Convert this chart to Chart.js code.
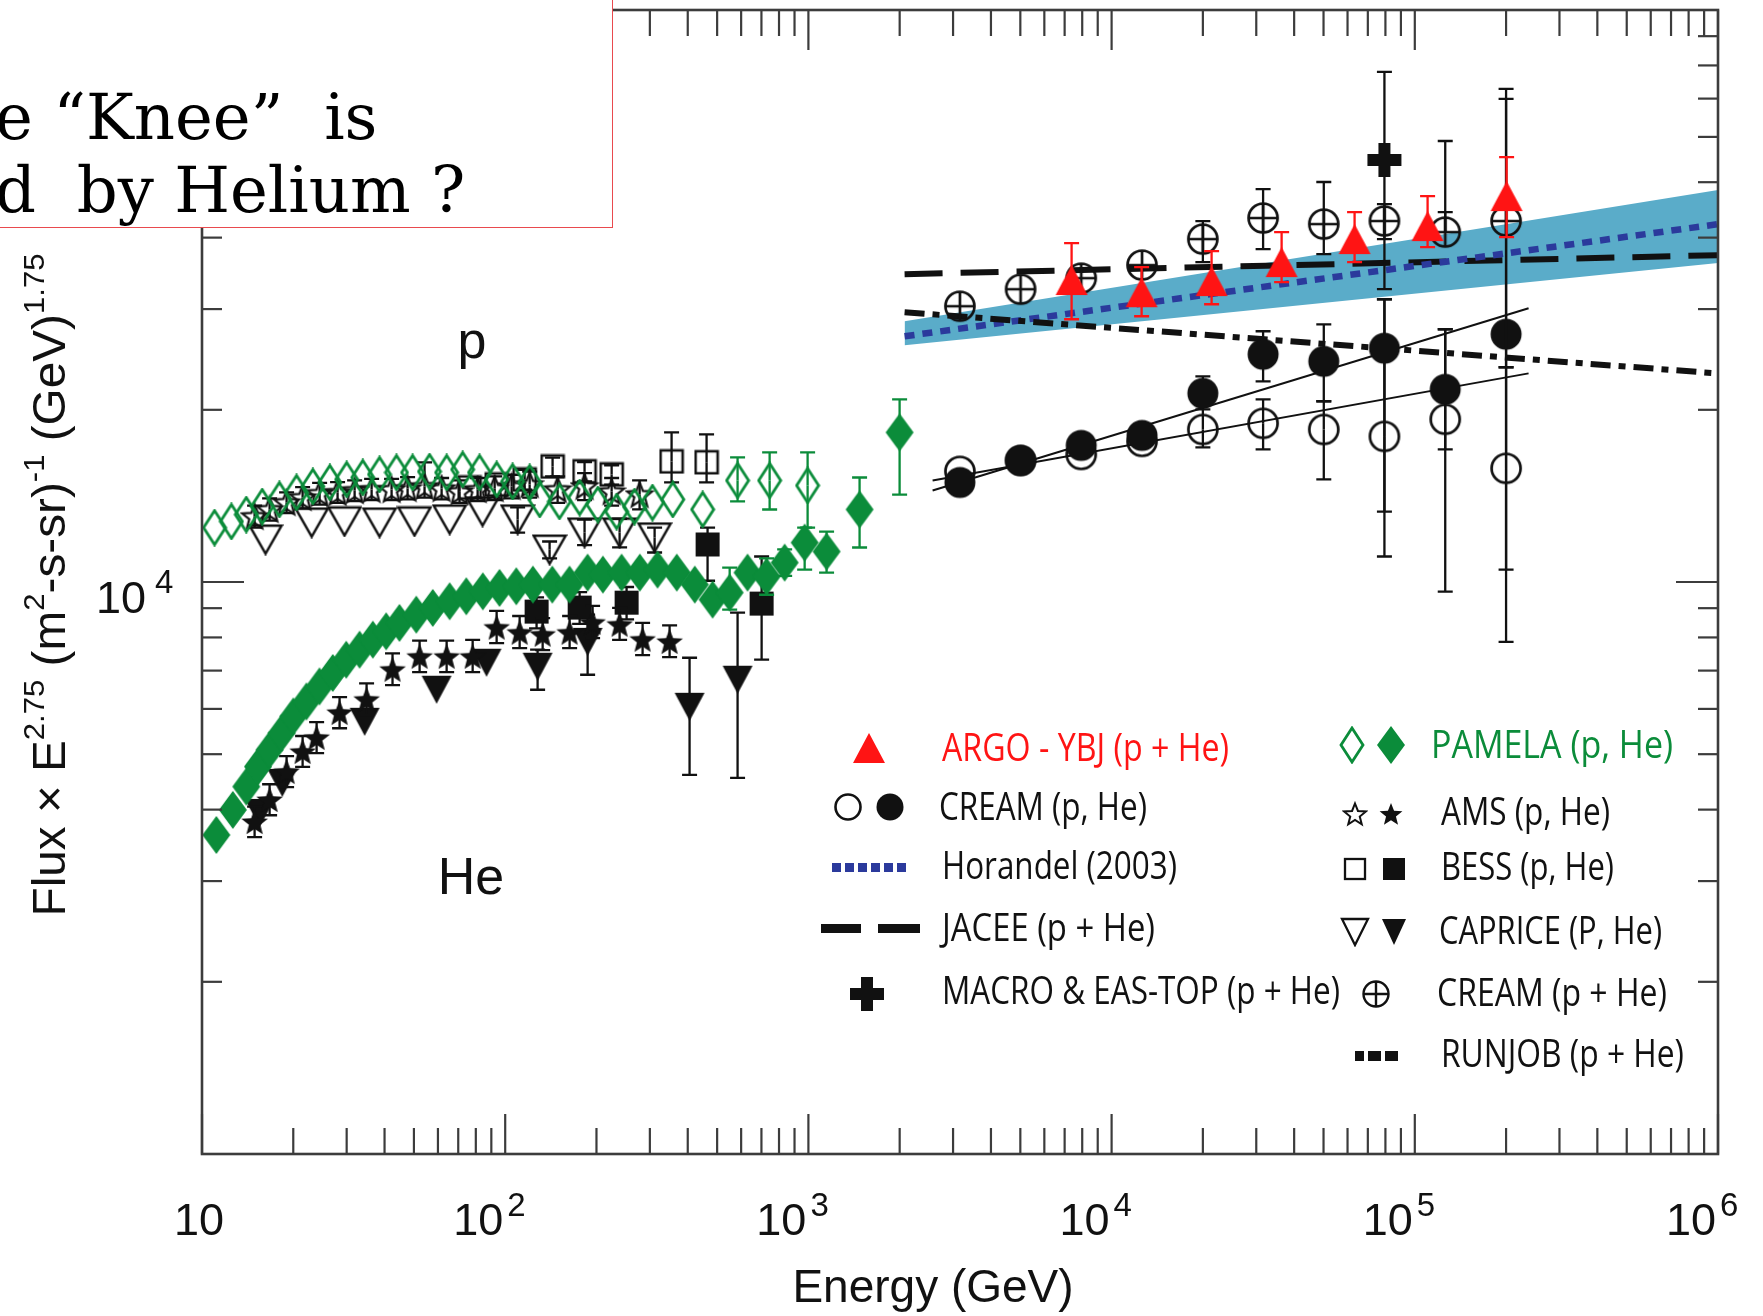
<!DOCTYPE html>
<html>
<head>
<meta charset="utf-8">
<script src="https://cdn.jsdelivr.net/npm/chart.js@4.4.1/dist/chart.umd.min.js"></script>
<style>
html,body{margin:0;padding:0;background:#fff;}
#wrap{position:relative;width:1763px;height:1316px;overflow:hidden;background:#fff;}
#chart{position:absolute;left:0;top:0;}
#note{position:absolute;left:-20px;top:-20px;width:633px;height:248px;box-sizing:border-box;border:1.5px solid #e94a4e;background:#fff;}
#note div{position:absolute;left:14px;font-family:'DejaVu Serif',serif;font-size:64px;line-height:73px;white-space:pre;color:#000;}
</style>
</head>
<body>
<div id="wrap">
<canvas id="chart" width="1763" height="1316"></canvas>
<div id="note"><div style="top:100px">e “Knee”  is</div><div style="top:173px">d  by Helium ?</div></div>
</div>
<script>
// ================= DATA =================
const xTickValues = [10, 100, 1000, 10000, 100000, 1000000];
const xTickBase = ['10', '10', '10', '10', '10', '10'];
const xTickSup = ['', '2', '3', '4', '5', '6'];
const yTickValues = [10000];
const yTickBase = ['10'];
const yTickSup = ['4'];

// ARGO-YBJ (p+He)
const argoE = [7380, 12560, 21370, 36370, 63300, 110200, 200800];
const argoF = [33720, 32110, 33580, 36250, 39760, 41900, 47280];
const argoHi = [39130, 35510, 37870, 40900, 44330, 47280, 55330];
const argoLo = [28800, 29150, 30590, 33440, 36250, 38500, 40080];

// CREAM p (open), He (filled), p+He (circle-plus)
const creamE = [3160, 5010, 7940, 12600, 20000, 31600, 50100, 79400, 126000, 200000];
const creamPF = [15610, 16310, 16710, 17610, 18480, 18940, 18480, 17970, 19250, 15800];
const creamPHi = [null, null, null, null, 20860, 20860, 20700, 31210, 27660, 23740];
const creamPLo = [null, null, null, null, 17190, 17050, 15110, 11080, 9620, 7860];
const creamHeF = [14930, 16310, 17330, 18040, 21370, 25010, 24310, 25630, 21720, 27110];
const creamHeHi = [null, null, null, null, 22890, 27440, 28220, 31210, 27660, 72780];
const creamHeLo = [null, null, null, null, 20040, 22430, 20700, 13280, 17050, 10510];
const creamPHeF = [30350, 32500, 33980, 35810, 39760, 43280, 42240, 42760, 40900, 42760];
const creamPHeHi = [null, null, null, null, 42760, 48640, 50040, 45780, 59020, 69900];
const creamPHeLo = [null, null, null, null, 36250, 38190, 37420, 39760, 44330, 23740];

// MACRO & EAS-TOP (p+He)
const macroE = [79400];
const macroF = [54680];
const macroHi = [77960];
const macroLo = [32500];

// PAMELA p (open diamonds)
const pamPE = [11.0, 12.5, 14.0, 15.8, 18.0, 20.5, 23.2, 26.4, 30.0, 33.9, 38.5, 43.8, 49.5, 56.3, 64.1, 72.4, 82.3, 93.7, 105.8, 120.4, 130, 151, 176, 202, 233, 267, 306, 357, 448, 584, 745, 994];
const pamPF = [12450, 12760, 13120, 13550, 13940, 14340, 14690, 14930, 15110, 15230, 15420, 15540, 15540, 15600, 15540, 15730, 15540, 15110, 14990, 14930, 13940, 13830, 14050, 13660, 13280, 13550, 13770, 13940, 13390, 15050, 15050, 14750];
const pamPHi = [null, null, null, null, null, null, null, null, null, null, null, null, null, null, null, null, null, null, null, null, null, null, null, null, null, null, null, null, null, 16510, 16850, 16850];
const pamPLo = [null, null, null, null, null, null, null, null, null, null, null, null, null, null, null, null, null, null, null, null, null, null, null, null, null, null, null, null, null, 13830, 13390, 12450];

// PAMELA He (filled diamonds)
const pamHeE = [11.15, 12.64, 14.0, 15.3, 16.7, 18.3, 20.0, 22.1, 24.4, 27.0, 29.9, 33.1, 36.6, 40.5, 44.8, 50.9, 57.7, 65.6, 74.4, 84.4, 95.8, 108.8, 123.4, 143, 163, 187, 210, 242, 278, 318, 368, 422, 483, 550, 630, 728, 835, 972, 1148, 1475, 1999];
const pamHeF = [3612, 3995, 4388, 4756, 5088, 5443, 5820, 6182, 6569, 6934, 7314, 7615, 7929, 8199, 8481, 8768, 9010, 9253, 9441, 9632, 9765, 9828, 9895, 9895, 9895, 10386, 10303, 10386, 10386, 10512, 10386, 9895, 9316, 9582, 10386, 10220, 10813, 11720, 11304, 13390, 18260];
const pamHeHi = [null, null, null, null, null, null, null, null, null, null, null, null, null, null, null, null, null, null, null, null, null, null, null, null, null, null, null, null, null, null, null, null, null, 10600, null, 11000, 11400, 12450, 12250, 15230, 20860];
const pamHeLo = [null, null, null, null, null, null, null, null, null, null, null, null, null, null, null, null, null, null, null, null, null, null, null, null, null, null, null, null, null, null, null, null, null, 8950, null, 9500, 10250, 10512, 10386, 11489, 14220];

// AMS p (open stars), He (filled stars)
const amsPE = [14.91, 16.71, 19.01, 21.47, 24.43, 28.0, 31.87, 36.26, 42.2, 47.65, 54.2, 61.7, 70.7, 81.1, 92.3, 105, 120.4, 148.9, 182.7, 224.4, 277.5];
const amsPF = [13020, 13390, 13770, 14050, 14280, 14340, 14450, 14510, 14510, 14570, 14690, 14570, 14390, 14510, 14570, 14690, 14810, 14510, 14690, 14390, 14220];
const amsPHi = [13600, 14000, 14350, 14650, 14900, 14950, 15050, 15150, 15150, 15250, 16180, 15200, 15050, 15200, 15300, 15400, 15600, 15300, 15500, 15200, 15050];
const amsPLo = [12450, 12800, 13200, 13450, 13650, 13750, 13850, 13900, 13900, 13950, 14050, 13950, 13750, 13850, 13900, 14000, 14050, 13750, 13900, 13600, 13400];
const amsHeE = [14.91, 16.71, 19.01, 21.47, 23.88, 28.43, 34.9, 42.5, 52.2, 64.1, 78.1, 93.7, 111.6, 132.9, 163.1, 194.2, 238.4, 283.9, 348.5];
const amsHeF = [3806, 4159, 4657, 5047, 5340, 5906, 6226, 7025, 7403, 7403, 7403, 8323, 8155, 8090, 8155, 8491, 8423, 7929, 7860];
const amsHeHi = [4050, 4430, 4960, 5380, 5690, 6290, 6650, 7500, 7900, 7900, 7920, 8900, 8720, 8650, 8720, 9080, 9010, 8480, 8400];
const amsHeLo = [3580, 3910, 4380, 4750, 5020, 5550, 5850, 6600, 6960, 6960, 6960, 7820, 7660, 7600, 7660, 7980, 7920, 7450, 7390];

// BESS p (open squares), He (filled squares)
const bessPE = [76.3, 93.7, 115.9, 143.3, 182.7, 224.4, 353.8, 461.5];
const bessPF = [14630, 14810, 15110, 15920, 15610, 15420, 16250, 16190];
const bessPHi = [null, null, 15700, 16500, 16200, 16000, 18260, 18120];
const bessPLo = [null, null, 14500, 15300, 15000, 14800, 14930, 14930];
const bessHeE = [126.9, 176, 251.4, 465, 701];
const bessHeF = [8876, 9020, 9203, 11630, 9168];
const bessHeHi = [9400, 9600, 9800, 12450, 11080];
const bessHeLo = [8300, 8450, 8600, 10050, 7314];

// CAPRICE p (open down triangles), He (filled down triangles)
const capPE = [16.2, 23.0, 29.5, 38.5, 50.2, 65.6, 84.2, 109.9, 140.1, 182.7, 238.4, 311];
const capPF = [11860, 12700, 12760, 12700, 12760, 12860, 13280, 12860, 11390, 12200, 12200, 11960];
const capPHi = [null, null, null, null, null, null, null, 13500, 11770, 12860, 12900, 12450];
const capPLo = [null, null, null, null, null, null, null, 12200, 11000, 11600, 11500, 11260];
const capHeE = [15.5, 18.4, 34.4, 59.4, 86.8, 127.9, 187, 405.6, 584];
const capHeF = [3947, 4455, 5697, 6481, 7226, 7110, 7860, 6052, 6748];
const capHeHi = [null, null, null, null, null, 7615, 8768, 7372, 8840];
const capHeLo = [null, null, null, null, null, 6481, 6884, 4601, 4546];

// Model / fit lines
const jaceeE = [2076, 1000000];
const jaceeF = [34530, 37270];
const horE = [2076, 1000000];
const horF = [26890, 42230];
const bandE = [2076, 1000000];
const bandHiF = [28570, 48440];
const bandLoF = [25940, 36100];
const runjobE = [2076, 990000];
const runjobF = [29620, 23160];
const creamFitE = [2568, 237300];
const creamFitHeF = [14455, 30100];
const creamFitPF = [15050, 23160];

// ================= STYLE =================
const GREEN = '#0b8c3a', RED = '#ff1414', BLK = '#111111', BLUE = '#2b3a9c', BAND = '#5aacc9';

function mk(w, h, fn) {
  const c = document.createElement('canvas'); c.width = w; c.height = h;
  const g = c.getContext('2d'); fn(g, w, h); return c;
}
function starPath(g, cx, cy, R, r) {
  g.beginPath();
  for (let i = 0; i < 10; i++) {
    const a = -Math.PI / 2 + i * Math.PI / 5, rr = i % 2 ? r : R;
    g.lineTo(cx + rr * Math.cos(a), cy + rr * Math.sin(a));
  }
  g.closePath();
}
const diaPath = (g, w, h, m) => { g.beginPath(); g.moveTo(w / 2, m); g.lineTo(w - m, h / 2); g.lineTo(w / 2, h - m); g.lineTo(m, h / 2); g.closePath(); };
const mDiaOpen = mk(26, 38, (g, w, h) => { g.strokeStyle = GREEN; g.lineWidth = 2.8; diaPath(g, w, h, 2); g.stroke(); });
const mDiaFill = mk(30, 40, (g, w, h) => { g.fillStyle = GREEN; diaPath(g, w, h, 1); g.fill(); });
const mCircOpen = mk(36, 36, (g) => { g.strokeStyle = BLK; g.lineWidth = 2.7; g.beginPath(); g.arc(18, 18, 14.5, 0, 7); g.stroke(); });
const mCircFill = mk(36, 36, (g) => { g.fillStyle = BLK; g.beginPath(); g.arc(18, 18, 15.5, 0, 7); g.fill(); });
const mCircPlus = mk(36, 36, (g) => { g.strokeStyle = BLK; g.lineWidth = 2.7; g.beginPath(); g.arc(18, 18, 14.5, 0, 7); g.moveTo(18, 3); g.lineTo(18, 33); g.moveTo(3, 18); g.lineTo(33, 18); g.stroke(); });
const mTriUp = mk(34, 32, (g) => { g.fillStyle = RED; g.beginPath(); g.moveTo(17, 1); g.lineTo(33, 31); g.lineTo(1, 31); g.closePath(); g.fill(); });
const triDn = (g, w, h) => { g.beginPath(); g.moveTo(2, 2); g.lineTo(w - 2, 2); g.lineTo(w / 2, h - 2); g.closePath(); };
const mTriDnOpen = mk(36, 32, (g, w, h) => { g.strokeStyle = BLK; g.lineWidth = 2.5; triDn(g, w, h); g.stroke(); });
const mTriDnFill = mk(34, 32, (g, w, h) => { g.fillStyle = BLK; triDn(g, w, h); g.fill(); });
const mSqOpen = mk(26, 26, (g) => { g.strokeStyle = BLK; g.lineWidth = 2.5; g.strokeRect(2, 2, 22, 22); });
const mSqFill = mk(26, 26, (g) => { g.fillStyle = BLK; g.fillRect(1, 1, 24, 24); });
const mStarOpen = mk(30, 30, (g) => { g.strokeStyle = BLK; g.lineWidth = 2.2; starPath(g, 15, 16, 13, 5.6); g.stroke(); });
const mStarFill = mk(30, 30, (g) => { g.fillStyle = BLK; starPath(g, 15, 16, 14, 6); g.fill(); });
const mCross = mk(36, 36, (g) => { g.fillStyle = BLK; g.fillRect(12, 1, 12, 34); g.fillRect(1, 12, 34, 12); });
// legend-size markers
const lStarOpen = mk(26, 26, (g) => { g.strokeStyle = BLK; g.lineWidth = 2; starPath(g, 13, 14, 11.5, 5); g.stroke(); });
const lStarFill = mk(26, 26, (g) => { g.fillStyle = BLK; starPath(g, 13, 14, 12, 5.2); g.fill(); });
const lSqOpen = mk(24, 24, (g) => { g.strokeStyle = BLK; g.lineWidth = 2.3; g.strokeRect(2, 2, 20, 20); });
const lSqFill = mk(24, 24, (g) => { g.fillStyle = BLK; g.fillRect(1, 1, 22, 22); });
const lTriDnOpen = mk(30, 30, (g, w, h) => { g.strokeStyle = BLK; g.lineWidth = 2.3; triDn(g, w, h); g.stroke(); });
const lTriDnFill = mk(28, 30, (g, w, h) => { g.fillStyle = BLK; triDn(g, w, h); g.fill(); });
const lCircOpen = mk(32, 32, (g) => { g.strokeStyle = BLK; g.lineWidth = 2.6; g.beginPath(); g.arc(16, 16, 12.5, 0, 7); g.stroke(); });
const lCircFill = mk(32, 32, (g) => { g.fillStyle = BLK; g.beginPath(); g.arc(16, 16, 13.5, 0, 7); g.fill(); });
const lCircPlus = mk(32, 32, (g) => { g.strokeStyle = BLK; g.lineWidth = 2.4; g.beginPath(); g.arc(16, 16, 12.5, 0, 7); g.moveTo(16, 3); g.lineTo(16, 29); g.moveTo(3, 16); g.lineTo(29, 16); g.stroke(); });

const pts = (E, F) => E.map((e, i) => ({ x: e, y: F[i] }));
function scat(label, E, F, style, order, hi, lo, errColor) {
  return { label, type: 'scatter', data: pts(E, F), pointStyle: style, pointRadius: 6, pointHoverRadius: 6,
    showLine: false, order, errHi: hi, errLo: lo, errColor: errColor || BLK };
}
function lineDs(label, E, F, color, width, dash, order, extra) {
  return Object.assign({ label, type: 'line', data: pts(E, F), borderColor: color, borderWidth: width,
    borderDash: dash, borderCapStyle: 'butt', pointRadius: 0, fill: false, tension: 0, order }, extra || {});
}

const datasets = [
  lineDs('band-hi', bandE, bandHiF, 'rgba(0,0,0,0)', 0, [], 100, { fill: '+1', backgroundColor: BAND }),
  lineDs('band-lo', bandE, bandLoF, 'rgba(0,0,0,0)', 0, [], 99),
  lineDs('JACEE (p + He)', jaceeE, jaceeF, BLK, 6, [38, 18], 98),
  lineDs('Horandel (2003)', horE, horF, BLUE, 6.5, [10, 8], 97),
  lineDs('RUNJOB (p + He)', runjobE, runjobF, BLK, 6, [20, 8, 7, 8], 96),
  lineDs('CREAM fit He', creamFitE, creamFitHeF, BLK, 2, [], 95),
  lineDs('CREAM fit p', creamFitE, creamFitPF, BLK, 2, [], 94),
  scat('CAPRICE p', capPE, capPF, mTriDnOpen, 20, capPHi, capPLo),
  scat('CAPRICE He', capHeE, capHeF, mTriDnFill, 19, capHeHi, capHeLo),
  scat('BESS p', bessPE, bessPF, mSqOpen, 18, bessPHi, bessPLo),
  scat('BESS He', bessHeE, bessHeF, mSqFill, 17, bessHeHi, bessHeLo),
  scat('AMS p', amsPE, amsPF, mStarOpen, 16, amsPHi, amsPLo),
  scat('AMS He', amsHeE, amsHeF, mStarFill, 15, amsHeHi, amsHeLo),
  scat('CREAM p', creamE, creamPF, mCircOpen, 14, creamPHi, creamPLo),
  scat('CREAM He', creamE, creamHeF, mCircFill, 13, creamHeHi, creamHeLo),
  scat('CREAM (p + He)', creamE, creamPHeF, mCircPlus, 12, creamPHeHi, creamPHeLo),
  scat('MACRO & EAS-TOP (p + He)', macroE, macroF, mCross, 11, macroHi, macroLo),
  scat('ARGO - YBJ (p + He)', argoE, argoF, mTriUp, 10, argoHi, argoLo, RED),
  scat('PAMELA p', pamPE, pamPF, mDiaOpen, 9, pamPHi, pamPLo, GREEN),
  scat('PAMELA He', pamHeE, pamHeF, mDiaFill, 8, pamHeHi, pamHeLo, GREEN)
];

// error bars drawn just before each dataset's own markers
const errPlugin = {
  id: 'errbars',
  beforeDatasetDraw(chart, args) {
    const d = chart.data.datasets[args.index];
    if (!d.errHi && !d.errLo) return;
    const ctx = chart.ctx, xs = chart.scales.x, ys = chart.scales.y, cap = 7.5;
    ctx.save();
    ctx.strokeStyle = d.errColor; ctx.lineWidth = 2.3;
    d.data.forEach((p, i) => {
      const px = xs.getPixelForValue(p.x), py = ys.getPixelForValue(p.y);
      [d.errHi ? d.errHi[i] : null, d.errLo ? d.errLo[i] : null].forEach(v => {
        if (v == null) return;
        const ey = ys.getPixelForValue(v);
        ctx.beginPath();
        ctx.moveTo(px, py); ctx.lineTo(px, ey);
        ctx.moveTo(px - cap, ey); ctx.lineTo(px + cap, ey);
        ctx.stroke();
      });
    });
    ctx.restore();
  }
};

const legendItems = [
  { text: 'ARGO - YBJ (p + He)', color: RED, x: 942, y: 748, w: 287, marks: [[mTriUp, 869, 748]] },
  { text: 'CREAM (p, He)', x: 939, y: 807, w: 208, marks: [[lCircOpen, 848, 807], [lCircFill, 890, 807]] },
  { text: 'Horandel (2003)', x: 942, y: 866, w: 235, blocks: { color: BLUE, y: 863, h: 9, rects: [[832, 9], [845, 9], [858, 9], [871, 9], [884, 9], [897, 9]] } },
  { text: 'JACEE (p + He)', x: 942, y: 928, w: 213, blocks: { color: BLK, y: 924, h: 9, rects: [[821, 40], [878, 42]] } },
  { text: 'MACRO & EAS-TOP (p + He)', x: 942, y: 991, w: 398, marks: [[mCross, 867, 994]] },
  { text: 'PAMELA (p, He)', color: GREEN, x: 1431, y: 745, w: 242, marks: [[mDiaOpen, 1352, 745], [mDiaFill, 1391, 745]] },
  { text: 'AMS (p, He)', x: 1441, y: 812, w: 169, marks: [[lStarOpen, 1355, 814], [lStarFill, 1391, 814]] },
  { text: 'BESS (p, He)', x: 1441, y: 867, w: 173, marks: [[lSqOpen, 1355, 869], [lSqFill, 1394, 869]] },
  { text: 'CAPRICE (P, He)', x: 1439, y: 931, w: 223, marks: [[lTriDnOpen, 1355, 932], [lTriDnFill, 1394, 932]] },
  { text: 'CREAM (p + He)', x: 1437, y: 993, w: 230, marks: [[lCircPlus, 1376, 994]] },
  { text: 'RUNJOB (p + He)', x: 1441, y: 1054, w: 243, blocks: { color: BLK, y: 1051, h: 10, rects: [[1355, 9], [1368, 13], [1385, 13]] } }
];

const decorPlugin = {
  id: 'decor',
  afterDraw(chart) {
    const ctx = chart.ctx, a = chart.chartArea, xs = chart.scales.x, ys = chart.scales.y;
    ctx.save();
    // frame
    ctx.strokeStyle = '#3c3c3c'; ctx.lineWidth = 2.6;
    ctx.strokeRect(a.left, a.top, a.right - a.left, a.bottom - a.top);
    ctx.lineWidth = 2.2;
    const seg = (x1, y1, x2, y2) => { ctx.beginPath(); ctx.moveTo(x1, y1); ctx.lineTo(x2, y2); ctx.stroke(); };
    // x ticks (bottom and top, inward)
    for (let d = 1; d <= 6; d++) {
      for (let k = 1; k <= 9; k++) {
        const v = k * Math.pow(10, d);
        if (v > 1e6) break;
        const px = xs.getPixelForValue(v), L = k === 1 ? 40 : 26;
        seg(px, a.bottom, px, a.bottom - L);
        seg(px, a.top, px, a.top + L);
      }
    }
    // y ticks (left and right, inward)
    for (let d = 3; d <= 5; d++) {
      for (let k = 1; k <= 9; k++) {
        const v = k * Math.pow(10, d);
        if (v > 1e5) break;
        const py = ys.getPixelForValue(v), L = k === 1 ? 42 : 20;
        seg(a.left, py, a.left + L, py);
        seg(a.right, py, a.right - L, py);
      }
    }
    // x tick labels
    ctx.fillStyle = BLK; ctx.textBaseline = 'alphabetic';
    xTickValues.forEach((v, i) => {
      const px = xs.getPixelForValue(v);
      ctx.font = "45px 'Liberation Sans'";
      if (!xTickSup[i]) { ctx.textAlign = 'center'; ctx.fillText(xTickBase[i], px - 3, 1235); }
      else {
        ctx.textAlign = 'right'; ctx.fillText(xTickBase[i], px - 2, 1235);
        ctx.font = "33px 'Liberation Sans'"; ctx.textAlign = 'left'; ctx.fillText(xTickSup[i], px + 2, 1216);
      }
    });
    // y tick labels
    yTickValues.forEach((v, i) => {
      const py = ys.getPixelForValue(v);
      ctx.font = "45px 'Liberation Sans'"; ctx.textAlign = 'right'; ctx.fillText(yTickBase[i], 146, py + 31);
      ctx.font = "33px 'Liberation Sans'"; ctx.textAlign = 'left'; ctx.fillText(yTickSup[i], 155, py + 11);
    });
    // x title
    ctx.font = "46px 'Liberation Sans'"; ctx.textAlign = 'center';
    ctx.fillText('Energy (GeV)', 933, 1302);
    // y title with superscripts
    const segs = [['Flux × E', 0], ['2.75', 1], [' (m', 0], ['2', 1], ['-s-sr)', 0], ['-1', 1], [' (GeV)', 0], ['1.75', 1]];
    const fM = "46px 'Liberation Sans'", fS = "30px 'Liberation Sans'";
    let total = 0;
    const ws = segs.map(([t, s]) => { ctx.font = s ? fS : fM; const w = ctx.measureText(t).width; total += w; return w; });
    ctx.save();
    ctx.translate(65, 585); ctx.rotate(-Math.PI / 2); ctx.scale(663 / total, 1);
    ctx.textAlign = 'left';
    let xx = -total / 2;
    segs.forEach(([t, s], i) => { ctx.font = s ? fS : fM; ctx.fillText(t, xx, s ? -21 : 0); xx += ws[i]; });
    ctx.restore();
    // in-plot labels
    ctx.font = "52px 'Liberation Sans'"; ctx.textAlign = 'center';
    ctx.fillText('p', 472, 358);
    ctx.fillText('He', 471, 894);
    // legend
    legendItems.forEach(it => {
      (it.marks || []).forEach(([m, mx, my]) => ctx.drawImage(m, mx - m.width / 2, my - m.height / 2));
      if (it.blocks) { ctx.fillStyle = it.blocks.color; it.blocks.rects.forEach(([bx, bw]) => ctx.fillRect(bx, it.blocks.y, bw, it.blocks.h)); }
      ctx.fillStyle = it.color || BLK;
      ctx.font = "38px 'Open Sans'"; ctx.textAlign = 'left';
      ctx.fillText(it.text, it.x, it.y + 13, it.w);
    });
    ctx.restore();
  }
};

new Chart(document.getElementById('chart'), {
  type: 'scatter',
  data: { datasets },
  options: {
    responsive: false, animation: false, devicePixelRatio: 1, events: [],
    layout: { padding: { left: 202, right: 45, top: 10, bottom: 162 } },
    scales: {
      x: { type: 'logarithmic', min: 10, max: 1000000, display: false },
      y: { type: 'logarithmic', min: 1000, max: 100000, display: false }
    },
    plugins: { legend: { display: false }, tooltip: { enabled: false } }
  },
  plugins: [errPlugin, decorPlugin]
});
</script>
</body>
</html>
